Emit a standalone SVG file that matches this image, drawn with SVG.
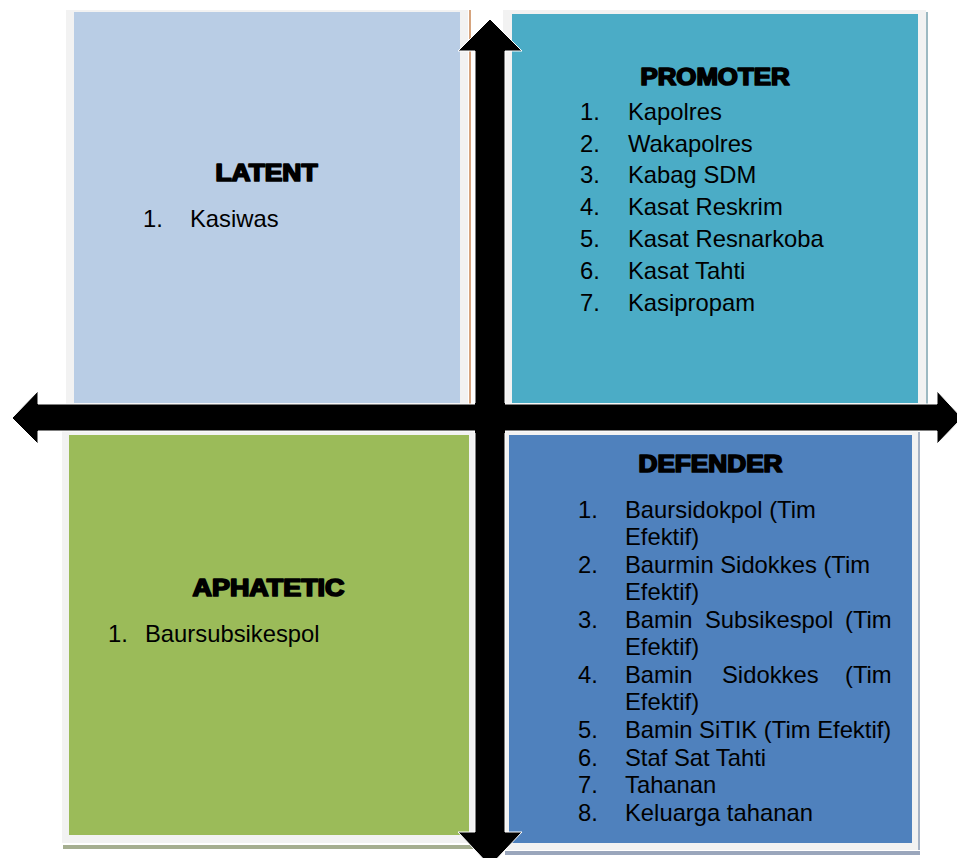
<svg xmlns="http://www.w3.org/2000/svg" width="957" height="858" viewBox="0 0 957 858">
<style>
.frame{fill:#F2F2F2}
.t{font-family:"Liberation Sans",Arial,sans-serif;font-size:23.8px;fill:#000}
.h{font-family:"Liberation Sans",Arial,sans-serif;font-size:23px;font-weight:bold;fill:#000;stroke:#000;stroke-width:1.7;stroke-linejoin:round;text-anchor:middle}
.arrow{fill:#000;stroke:#fff;stroke-width:1}
</style>
<rect width="957" height="858" fill="#fff"/>
<g id="latent">
<rect class="frame" x="66" y="10" width="402" height="396"/>
<rect x="74" y="12" width="386" height="391" fill="#B9CDE5"/>
<rect x="469" y="10" width="2" height="396" fill="#D6A47E"/>
<text class="h" x="266.5" y="181" textLength="102" lengthAdjust="spacingAndGlyphs">LATENT</text>
<text class="t" x="143" y="227">1.</text>
<text class="t" x="190" y="227">Kasiwas</text>
</g>
<g id="promoter">
<rect class="frame" x="503" y="10" width="423" height="398"/>
<rect x="512" y="14" width="406" height="389" fill="#4BACC6"/>
<rect x="926" y="12" width="2" height="396" fill="#9DB9C2"/>
<text class="h" x="715" y="85" textLength="149" lengthAdjust="spacingAndGlyphs">PROMOTER</text>
<text class="t" x="580" y="120">1.</text><text class="t" x="628" y="120">Kapolres</text>
<text class="t" x="580" y="152">2.</text><text class="t" x="628" y="152">Wakapolres</text>
<text class="t" x="580" y="183">3.</text><text class="t" x="628" y="183">Kabag SDM</text>
<text class="t" x="580" y="215">4.</text><text class="t" x="628" y="215">Kasat Reskrim</text>
<text class="t" x="580" y="247">5.</text><text class="t" x="628" y="247">Kasat Resnarkoba</text>
<text class="t" x="580" y="279">6.</text><text class="t" x="628" y="279">Kasat Tahti</text>
<text class="t" x="580" y="311">7.</text><text class="t" x="628" y="311">Kasipropam</text>
</g>
<g id="aphatetic">
<rect x="63" y="845" width="415" height="4" fill="#A5AE90"/>
<rect class="frame" x="62" y="428" width="416" height="415"/>
<rect x="69" y="435" width="400" height="400" fill="#9BBB59"/>
<text class="h" x="268.5" y="596" textLength="152" lengthAdjust="spacingAndGlyphs">APHATETIC</text>
<text class="t" x="108" y="642">1.</text>
<text class="t" x="145" y="642">Baursubsikespol</text>
</g>
<g id="defender">
<rect x="505" y="851" width="415" height="4" fill="#9AA6BC"/>
<rect class="frame" x="505" y="430" width="413" height="420"/>
<rect x="509" y="435" width="403" height="408" fill="#4F81BD"/>
<rect x="918" y="432" width="2" height="418" fill="#A6B2C4"/>
<text class="h" x="710.5" y="472" textLength="144" lengthAdjust="spacingAndGlyphs">DEFENDER</text>
<text class="t" x="578" y="518">1.</text><text class="t" x="625" y="518">Baursidokpol (Tim</text>
<text class="t" x="625" y="545">Efektif)</text>
<text class="t" x="578" y="573">2.</text><text class="t" x="625" y="573">Baurmin Sidokkes (Tim</text>
<text class="t" x="625" y="600">Efektif)</text>
<text class="t" x="578" y="628">3.</text><text class="t" y="628"><tspan x="625">Bamin</tspan><tspan x="705">Subsikespol</tspan><tspan x="845">(Tim</tspan></text>
<text class="t" x="625" y="655">Efektif)</text>
<text class="t" x="578" y="683">4.</text><text class="t" y="683"><tspan x="625">Bamin</tspan><tspan x="722">Sidokkes</tspan><tspan x="845">(Tim</tspan></text>
<text class="t" x="625" y="710">Efektif)</text>
<text class="t" x="578" y="738">5.</text><text class="t" x="625" y="738">Bamin SiTIK (Tim Efektif)</text>
<text class="t" x="578" y="766">6.</text><text class="t" x="625" y="766">Staf Sat Tahti</text>
<text class="t" x="578" y="793">7.</text><text class="t" x="625" y="793">Tahanan</text>
<text class="t" x="578" y="821">8.</text><text class="t" x="625" y="821">Keluarga tahanan</text>
</g>
<g id="connectors">
<polygon class="arrow" points="490,19 522,51 505,51 505,832 522,832 490,866 458,832 475,832 475,51 458,51"/>
<polygon class="arrow" points="12,418 38,391 38,404 937,404 937,391 962,418 937,444 937,431 38,431 38,444"/>
<rect x="475" y="403" width="30" height="30" fill="#000"/>
</g>
</svg>
